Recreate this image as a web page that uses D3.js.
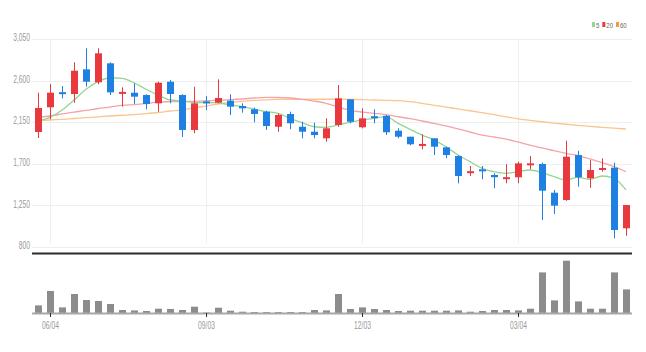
<!DOCTYPE html>
<html>
<head>
<meta charset="utf-8">
<script src="https://cdn.jsdelivr.net/npm/d3@7"></script>
<style>
  html, body { margin: 0; padding: 0; background: #fff; }
  svg { display: block; }
  text { font-family: "Liberation Sans", Arial, sans-serif; }
</style>
</head>
<body>
<svg id="chart" width="646" height="352"></svg>
<script>
// weekly candles, 50 of them; x labels sit on the 1st, 14th, 27th and 40th week
const xLabels = { 1: "06/04", 14: "09/03", 27: "12/03", 40: "03/04" };

const open  = [2044, 2311, 2475, 2455, 2722, 2582, 2787, 2465, 2469, 2444,
               2354, 2588, 2444, 2066, 2375, 2361, 2383, 2325, 2290, 2264,
               2101, 2239, 2101, 2047, 1976, 2120, 2398, 2095, 2215, 2220,
               2058, 1993, 1905, 1976, 1878, 1784, 1610, 1640, 1579, 1545,
               1554, 1690, 1698, 1387, 1308, 1795, 1543, 1645, 1658, 1002];
const high  = [2469, 2563, 2541, 2798, 2949, 2949, 2798, 2527, 2571, 2452,
               2588, 2606, 2452, 2534, 2433, 2614, 2452, 2354, 2307, 2274,
               2246, 2264, 2155, 2145, 2192, 2552, 2398, 2300, 2290, 2228,
               2084, 1993, 2019, 1976, 1885, 1795, 1676, 1676, 1597, 1695,
               1723, 1784, 1712, 1417, 1950, 1842, 1741, 1759, 1712, 1254];
const low   = [1979, 2181, 2408, 2361, 2534, 2560, 2444, 2318, 2347, 2290,
               2264, 2354, 1990, 2030, 2282, 2355, 2228, 2253, 2149, 2066,
               2047, 2073, 1976, 1976, 1939, 2101, 2138, 2084, 2138, 2011,
               1976, 1900, 1857, 1795, 1759, 1489, 1568, 1532, 1435, 1489,
               1489, 1640, 1092, 1157, 1300, 1452, 1441, 1615, 894, 922];
const close = [2304, 2469, 2460, 2707, 2588, 2895, 2473, 2478, 2426, 2347,
               2577, 2455, 2066, 2354, 2360, 2412, 2318, 2300, 2239, 2109,
               2228, 2138, 2047, 2011, 2084, 2408, 2155, 2192, 2205, 2041,
               1993, 1911, 1915, 1885, 1795, 1568, 1620, 1630, 1555, 1555,
               1705, 1705, 1409, 1247, 1777, 1554, 1633, 1655, 984, 1254];
const volume = [76000, 220000, 56000, 190000, 130000, 120000, 90000, 30000, 26000, 20000,
                43000, 40000, 30000, 63000, 5000, 53000, 23000, 13000, 10000, 9000,
                9000, 10000, 9000, 30000, 26000, 190000, 40000, 56000, 40000, 30000,
                20000, 23000, 23000, 23000, 23000, 26000, 13000, 20000, 30000, 30000,
                26000, 43000, 406000, 126000, 523000, 116000, 43000, 43000, 406000, 236000];

// moving averages (they carry history from before the window)
const ma5  = [2166, 2203, 2282, 2390, 2506, 2588, 2631, 2625, 2577, 2506,
              2444, 2390, 2379, 2363, 2363, 2358, 2336, 2318, 2290, 2264,
              2246, 2192, 2145, 2101, 2095, 2120, 2149, 2174, 2192, 2210,
              2138, 2073, 2011, 1957, 1885, 1795, 1723, 1651, 1615, 1597,
              1615, 1633, 1604, 1561, 1525, 1554, 1532, 1568, 1543, 1417];
const ma20 = [2203, 2217, 2239, 2260, 2277, 2298, 2314, 2331, 2341, 2352,
              2368, 2372, 2374, 2376, 2381, 2387, 2393, 2401, 2412, 2419,
              2419, 2412, 2398, 2379, 2354, 2314, 2279, 2260, 2246, 2231,
              2209, 2188, 2163, 2138, 2109, 2077, 2044, 2011, 1990, 1968,
              1936, 1903, 1871, 1842, 1814, 1788, 1752, 1712, 1669, 1615];
const ma60 = [2166, 2174, 2181, 2190, 2199, 2207, 2217, 2225, 2233, 2243,
              2255, 2271, 2282, 2304, 2325, 2347, 2363, 2376, 2385, 2392,
              2398, 2398, 2398, 2398, 2398, 2398, 2396, 2394, 2390, 2387,
              2383, 2372, 2354, 2333, 2314, 2293, 2274, 2253, 2231, 2208,
              2187, 2170, 2155, 2141, 2128, 2116, 2105, 2095, 2085, 2076];

const priceTicks = [800, 1250, 1700, 2150, 2600, 3050];
const maNames = ["5", "20", "60"];

const COLORS = {
  up: "#e8393e", down: "#1f80e3",
  ma5: "#95d592", ma20: "#f5a3ab", ma60: "#fbc590",
  grid: "#efefef", label: "#999", axis: "#2b2b2b", vol: "#8c8c8c", volBase: "#a8a8a8"
};
const NARROW = 0.64; // labels are set in a condensed face; squeeze a regular one

const svg = d3.select("#chart");
const idx = d3.range(open.length);

const x = d3.scaleBand().domain(idx).range([32, 632]).padding(0);
const cx = (i) => x(i) + x.bandwidth() / 2;
const y = d3.scaleLinear().domain([800, 3050]).range([247, 39]);
const yv = d3.scaleLinear().domain([0, 560000]).range([313, 257]);

// grid
const grid = svg.append("g");
grid.selectAll("line.h").data(priceTicks).join("line")
  .attr("x1", 32).attr("x2", 632)
  .attr("y1", (d) => Math.round(y(d)) + 0.5).attr("y2", (d) => Math.round(y(d)) + 0.5)
  .attr("stroke", COLORS.grid);
const labelIdx = Object.keys(xLabels).map(Number);
grid.selectAll("line.v").data(labelIdx).join("line")
  .attr("x1", (i) => Math.round(cx(i)) + 0.5).attr("x2", (i) => Math.round(cx(i)) + 0.5)
  .attr("y1", y(3050)).attr("y2", 243)
  .attr("stroke", COLORS.grid);

// y axis labels
svg.append("g").selectAll("text").data(priceTicks).join("text")
  .attr("transform", (d) => `translate(30,${y(d) - 1.5}) scale(${NARROW},1)`)
  .attr("dy", "0.35em")
  .attr("text-anchor", "end").attr("font-size", 10.5).attr("fill", COLORS.label)
  .text((d) => d3.format(",")(d));

// moving averages
const line = (arr) => d3.line().x((d, i) => cx(i)).y((d) => y(d)).curve(d3.curveMonotoneX)(arr);
const gMa = svg.append("g").attr("fill", "none").attr("stroke-width", 1.3);
[[ma60, COLORS.ma60], [ma20, COLORS.ma20], [ma5, COLORS.ma5]].forEach(([arr, c]) => {
  gMa.append("path").attr("d", line(arr)).attr("stroke", c);
});

// candles
const col = (i) => (close[i] >= open[i] ? COLORS.up : COLORS.down);
const gC = svg.append("g");
gC.selectAll("line").data(idx).join("line")
  .attr("x1", (i) => Math.round(cx(i)) + 0.5).attr("x2", (i) => Math.round(cx(i)) + 0.5)
  .attr("y1", (i) => y(high[i])).attr("y2", (i) => y(low[i]))
  .attr("stroke", col);
gC.selectAll("rect").data(idx).join("rect")
  .attr("x", (i) => Math.round(cx(i)) - 3)
  .attr("width", 7)
  .attr("y", (i) => Math.min(y(open[i]), y(close[i])))
  .attr("height", (i) => Math.max(2, Math.abs(y(open[i]) - y(close[i]))))
  .attr("fill", col);

// separator line
svg.append("line").attr("x1", 32).attr("x2", 632).attr("y1", 253.5).attr("y2", 253.5)
  .attr("stroke", COLORS.axis).attr("stroke-width", 2);

// volume
svg.append("g").selectAll("rect").data(idx).join("rect")
  .attr("x", (i) => Math.round(cx(i)) - 3).attr("width", 7)
  .attr("y", (i) => yv(volume[i])).attr("height", (i) => yv(0) - yv(volume[i]))
  .attr("fill", COLORS.vol);
svg.append("line").attr("x1", 32).attr("x2", 632).attr("y1", 313.5).attr("y2", 313.5)
  .attr("stroke", COLORS.volBase).attr("stroke-width", 2);

// x axis ticks + labels
const gx = svg.append("g").selectAll("g").data(labelIdx).join("g")
  .attr("transform", (i) => `translate(${Math.round(cx(i)) + 0.5},0)`);
gx.append("line").attr("y1", 313).attr("y2", 317).attr("stroke", COLORS.axis);
gx.append("text").attr("transform", `translate(0,329) scale(${NARROW},1)`)
  .attr("text-anchor", "middle")
  .attr("font-size", 10.5).attr("fill", COLORS.label)
  .text((i) => xLabels[i]);

// legend
const legColors = [COLORS.ma5, COLORS.up, "#f59a3a"];
const leg = svg.append("g").attr("transform", "translate(592,0)");
let lx = 0;
maNames.forEach((n, k) => {
  leg.append("rect").attr("x", lx).attr("y", 22).attr("width", 3).attr("height", 5).attr("fill", legColors[k]);
  const t = leg.append("text").attr("transform", `translate(${lx + 4},27.5) scale(0.75,1)`)
    .attr("font-size", 8).attr("fill", "#666").text(n);
  lx += 4 + t.node().getComputedTextLength() * 0.75 + 3;
});
</script>
</body>
</html>
